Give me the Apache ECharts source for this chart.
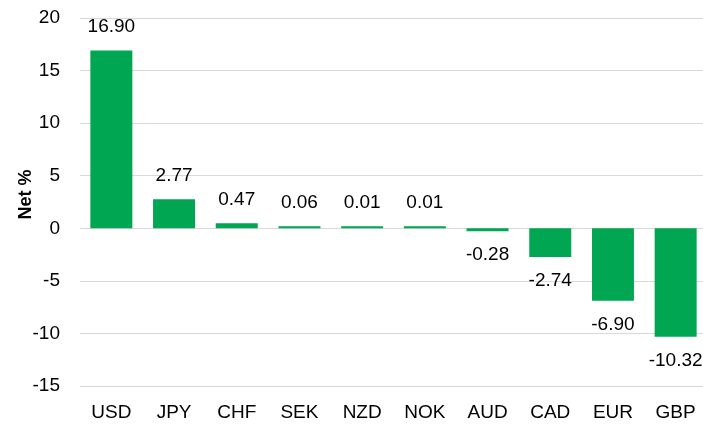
<!DOCTYPE html>
<html>
<head>
<meta charset="utf-8">
<script src="https://cdn.jsdelivr.net/npm/echarts@6/dist/echarts.min.js"></script>
<style>
  html, body { margin: 0; padding: 0; background: #fff; }
  #chart { width: 703px; height: 425px; }
</style>
</head>
<body>
<div id="chart"></div>
<script>
// currencies and net positioning (%)
var currencies = ['USD', 'JPY', 'CHF', 'SEK', 'NZD', 'NOK', 'AUD', 'CAD', 'EUR', 'GBP'];
var netValues = [16.90, 2.77, 0.47, 0.06, 0.01, 0.01, -0.28, -2.74, -6.90, -10.32];
var yTicks = { min: -15, max: 20, step: 5 };

var green = '#00A651';
var font = '"Liberation Sans", Arial, sans-serif';

// label above bar for positives, below for negatives
var barData = [];
for (var i = 0; i < netValues.length; i++) {
   barData.push({
      value: netValues[i],
      label: { position: netValues[i] >= 0 ? 'top' : 'bottom' }
   });
}

var chart = echarts.init(document.getElementById('chart'));
var opt = {
   animation: false,
   grid: {
      left: 80,
      right: -4,
      top: 18,
      bottom: 39,
      outerBoundsMode: 'none'
   },
   xAxis: {
      type: 'category',
      data: currencies,
      axisLine: { show: false },
      axisTick: { show: false },
      axisLabel: {
         margin: 17,
         fontSize: 19,
         color: '#000',
         fontFamily: font
      }
   },
   yAxis: {
      type: 'value',
      min: yTicks.min,
      max: yTicks.max,
      interval: yTicks.step,
      name: 'Net %',
      nameLocation: 'middle',
      nameGap: 45,
      nameMoveOverlap: false,
      nameTextStyle: {
         fontSize: 18,
         fontWeight: 'bold',
         color: '#000',
         fontFamily: font,
         padding: [0, 0, 0, 15]
      },
      axisLine: { show: false },
      axisTick: { show: false },
      axisLabel: {
         margin: 20,
         fontSize: 19,
         color: '#000',
         fontFamily: font
      },
      splitLine: {
         lineStyle: { color: '#d9d9d9', width: 1 }
      }
   },
   series: [{
      type: 'bar',
      data: barData,
      barWidth: 42,
      barMinHeight: 2,
      itemStyle: { color: green },
      label: {
         show: true,
         distance: 14,
         fontSize: 19,
         color: '#000',
         fontFamily: font,
         formatter: function (p) {
            return p.value.toFixed(2);
         }
      }
   }]
};
chart.setOption(opt);
</script>
</body>
</html>
